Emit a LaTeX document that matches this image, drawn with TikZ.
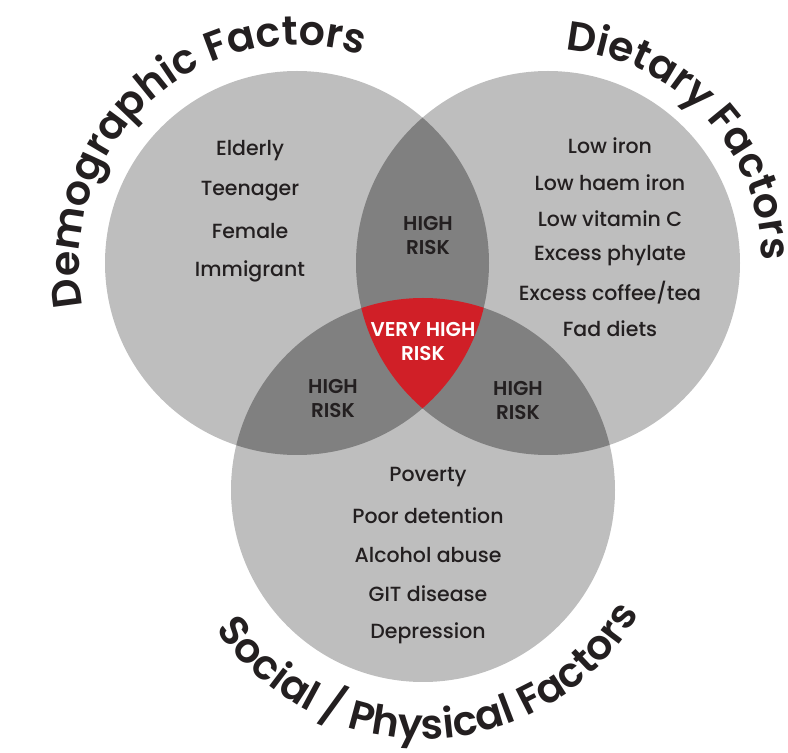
\documentclass[tikz,border=0pt]{standalone}
\usepackage{fontspec}
\setmainfont{Poppins}[UprightFont=* Medium,BoldFont=* SemiBold]
\usetikzlibrary{decorations.text}

\definecolor{circlegray}{HTML}{BEBEBE}
\definecolor{overlapgray}{HTML}{808080}
\definecolor{riskred}{HTML}{D01F27}
\definecolor{textdark}{HTML}{231F20}

\newcommand{\titlefont}{\bfseries\fontsize{41}{41}\selectfont}

\begin{document}
\begin{tikzpicture}[x=1pt,y=1pt,
    factor node/.style={font=\fontsize{20.5}{20.5}\selectfont,text=textdark,inner sep=0pt},
    risk node/.style={align=center,font=\bfseries\fontsize{20}{24}\selectfont,text=textdark},
    title path/.style={decorate,decoration={text along path,text align=center,
        text color=textdark,text={|\titlefont|#1}}}]

  \useasboundingbox (0,0) rectangle (788,753);

  % circle centres
  \coordinate (L) at (297,490);
  \coordinate (R) at (548,490);
  \coordinate (B) at (423,263);

  % the three sets
  \fill[circlegray] (L) circle (192);
  \fill[circlegray] (R) circle (192);
  \fill[circlegray] (B) circle (192);

  % pairwise overlaps
  \begin{scope}
    \clip (L) circle (192);
    \fill[overlapgray] (R) circle (192);
    \fill[overlapgray] (B) circle (192);
  \end{scope}
  \begin{scope}
    \clip (R) circle (192);
    \fill[overlapgray] (B) circle (192);
  \end{scope}

  % triple overlap
  \begin{scope}
    \clip (L) circle (192);
    \clip (R) circle (192);
    \fill[riskred] (B) circle (192);
  \end{scope}

  % titles along the circles
  \path[title path={Demographic Factors}] (L) ++(222:218) arc[start angle=222,end angle=42,radius=218];
  \path[title path={Dietary Factors}] (R) ++(133:214) arc[start angle=133,end angle=-47,radius=214];
  \path[title path={Social / Physical Factors}] (B) ++(182:249) arc[start angle=182,end angle=362,radius=249];

  % Demographic factors
  \node[factor node] (d1) at (250,602) {Elderly};
  \node[factor node,node distance=40pt] (d2) [below of=d1] {Teenager};
  \node[factor node,node distance=40pt] (d3) [below of=d2] {Female};
  \node[factor node,node distance=40pt] (d4) [below of=d3] {Immigrant};

  % Dietary factors
  \node[factor node] (f1) at (610,607) {Low iron};
  \node[factor node,node distance=36.6pt] (f2) [below of=f1] {Low haem iron};
  \node[factor node,node distance=36.6pt] (f3) [below of=f2] {Low vitamin C};
  \node[factor node,node distance=36.6pt] (f4) [below of=f3] {Excess phylate};
  \node[factor node,node distance=36.6pt] (f5) [below of=f4] {Excess coffee/tea};
  \node[factor node,node distance=36.6pt] (f6) [below of=f5] {Fad diets};

  % Social / physical factors
  \node[factor node] (s1) at (428,276) {Poverty};
  \node[factor node,node distance=39pt] (s2) [below of=s1] {Poor detention};
  \node[factor node,node distance=39pt] (s3) [below of=s2] {Alcohol abuse};
  \node[factor node,node distance=39pt] (s4) [below of=s3] {GIT disease};
  \node[factor node,node distance=39pt] (s5) [below of=s4] {Depression};

  % Risk levels
  \node[risk node] (hr1) at (428,517) {HIGH\\RISK};
  \node[risk node] (hr2) at (333,354) {HIGH\\RISK};
  \node[risk node] (hr3) at (518,352) {HIGH\\RISK};
  \node[risk node,text=white] (vhr) at (423,411) {VERY HIGH\\RISK};
\end{tikzpicture}
\end{document}
